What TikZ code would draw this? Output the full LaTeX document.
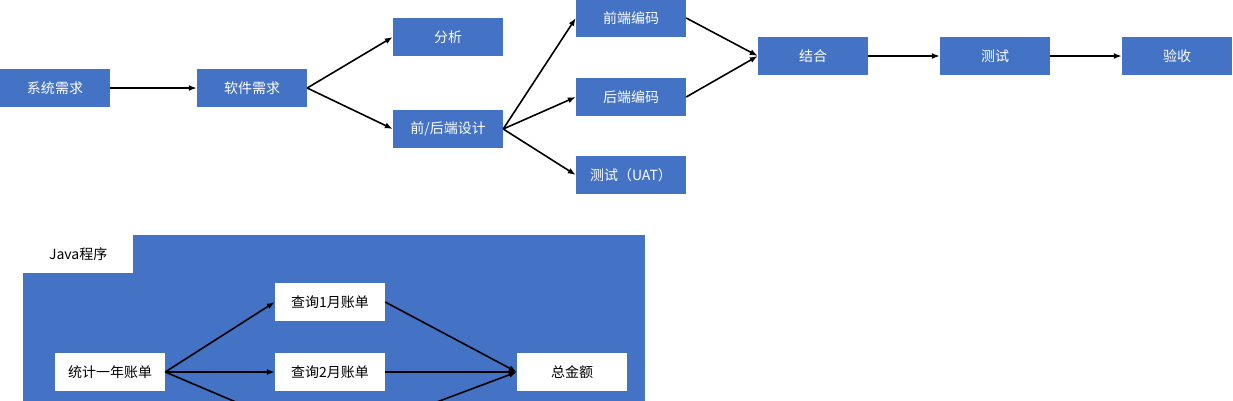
\documentclass[tikz,border=0pt]{standalone}
\usepackage{fontspec}
\setmainfont{Noto Sans CJK SC}
\usetikzlibrary{arrows.meta}
\definecolor{boxblue}{HTML}{4472C4}
\tikzset{
  bluebox/.style={fill=boxblue, text=white, minimum width=110pt, minimum height=38pt, inner sep=0pt, font=\fontsize{14pt}{16pt}\selectfont},
  whitebox/.style={fill=white, text=black, minimum width=110pt, minimum height=38pt, inner sep=0pt, font=\fontsize{14pt}{16pt}\selectfont},
  flow/.style={-{Latex[length=8pt,width=6pt]}, line width=1.6pt}
}
\begin{document}
\begin{tikzpicture}[x=1pt,y=-1pt]
\useasboundingbox (0,0) rectangle (1233,400);
\clip (0,0) rectangle (1233,400);
% upper flow
\node[bluebox] (sysreq) at (55,88) {系统需求};
\node[bluebox] (swreq) at (252,88) {软件需求};
\node[bluebox] (anal) at (448,37) {分析};
\node[bluebox] (design) at (448,129) {前/后端设计};
\node[bluebox] (front) at (631,18) {前端编码};
\node[bluebox] (back) at (631,97) {后端编码};
\node[bluebox] (uat) at (631,175) {测试（UAT）};
\node[bluebox] (merge) at (813,56) {结合};
\node[bluebox] (test) at (995,56) {测试};
\node[bluebox] (accept) at (1177,56) {验收};
\draw[flow] (sysreq.east) -- (swreq.west);
\draw[flow] (swreq.east) -- (anal.west);
\draw[flow] (swreq.east) -- (design.west);
\draw[flow] (design.east) -- (front.west);
\draw[flow] (design.east) -- (back.west);
\draw[flow] (design.east) -- (uat.west);
\draw[flow] (front.east) -- (merge.west);
\draw[flow] (back.east) -- (merge.west);
\draw[flow] (merge.east) -- (test.west);
\draw[flow] (test.east) -- (accept.west);
% Java program
\fill[boxblue] (23,235) rectangle (645,420);
\node[whitebox, anchor=north west] (java) at (23,235) {Java程序};
\node[whitebox] (jan) at (330,302) {查询1月账单};
\node[whitebox] (year) at (110,372) {统计一年账单};
\node[whitebox] (feb) at (330,372) {查询2月账单};
\node[whitebox] (total) at (572,372) {总金额};
\coordinate (mar) at (330,442);
\draw[flow] (year.east) -- (jan.west);
\draw[flow] (year.east) -- (feb.west);
\draw[line width=1.6pt] (year.east) -- (mar);
\draw[flow] (jan.east) -- (total.west);
\draw[flow] (feb.east) -- (total.west);
\draw[flow] (mar) -- (total.west);
\end{tikzpicture}
\end{document}
